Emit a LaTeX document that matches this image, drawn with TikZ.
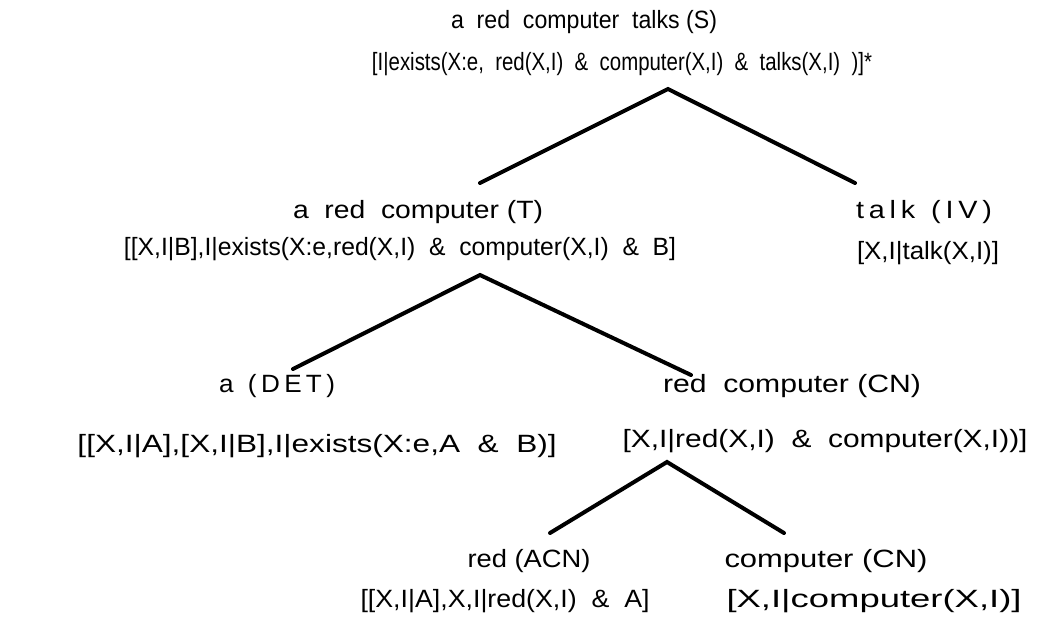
\documentclass[tikz,border=0pt]{standalone}
\usepackage{fontspec}
\setmainfont{Liberation Sans}
\usepackage{graphicx}
\newcommand\fw[2]{\resizebox{#1pt}{\height}{#2}}
\begin{document}
\begin{tikzpicture}[x=1pt,y=-1pt,
  lbl/.style={inner sep=0pt, anchor=center, font=\fontsize{25}{29}\selectfont},
  br/.style={line width=4pt, line cap=round}]
\useasboundingbox (0,0) rectangle (1040,621);
\fill[white] (0,0) rectangle (1040,621);
% labels
\node[lbl] (t1) at (584,22) {\fw{266}{a\ \ red\ \ computer\ \ talks (S)}};
\node[lbl] (s1) at (622,64) {\fw{500}{[I|exists(X:e,\ \ red(X,I)\ \ \&\ \ computer(X,I)\ \ \&\ \ talks(X,I)\ \ )]*}};
\node[lbl] (t2) at (418,212) {\fw{250}{a\ \ red\ \ computer (T)}};
\node[lbl] (s2) at (400,249) {\fw{552}{[[X,I|B],I|exists(X:e,red(X,I)\ \ \&\ \ computer(X,I)\ \ \&\ \ B]}};
\node[lbl] (t3) at (924,212) {\fw{136}{t\,a\,l\,k\ \ (\,I\,V\,)}};
\node[lbl] (s3) at (928,253) {\fw{142}{[X,I|talk(X,I)]}};
\node[lbl] (t4) at (277,386) {\fw{116}{a\ \ (\,D\,E\,T\,)}};
\node[lbl] (s4) at (317,446) {\fw{479}{[[X,I|A],[X,I|B],I|exists(X:e,A\ \ \&\ \ B)]}};
\node[lbl] (t5) at (792,386) {\fw{258}{red\ \ computer (CN)}};
\node[lbl] (s5) at (825,441) {\fw{405}{[X,I|red(X,I)\ \ \&\ \ computer(X,I))]}};
\node[lbl] (t6) at (529,561) {\fw{123}{red (ACN)}};
\node[lbl] (t7) at (826,561) {\fw{203}{computer (CN)}};
\node[lbl] (s6) at (505,601) {\fw{289}{[[X,I|A],X,I|red(X,I)\ \ \&\ \ A]}};
\node[lbl] (s7) at (874,601) {\fw{295}{[X,I|computer(X,I)]}};
% branch points
\coordinate (a1) at (668,89);
\coordinate (e1l) at (480,183);
\coordinate (e1r) at (855,183);
\coordinate (a2) at (480,275);
\coordinate (e2l) at (293,369);
\coordinate (e2r) at (691,375);
\coordinate (a3) at (667,462);
\coordinate (e3l) at (550,533);
\coordinate (e3r) at (784,533);
\draw[br] (e1l) -- (a1) -- (e1r);
\draw[br] (e2l) -- (a2) -- (e2r);
\draw[br] (e3l) -- (a3) -- (e3r);
\end{tikzpicture}
\end{document}
